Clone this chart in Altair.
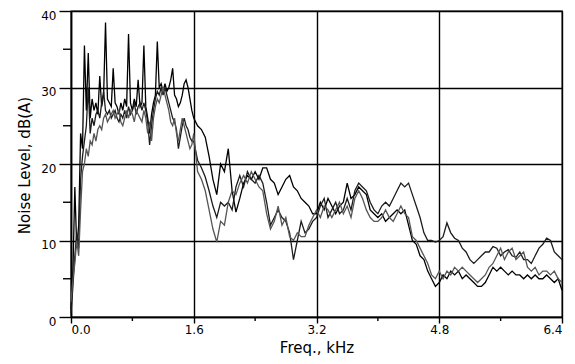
import altair as alt
import pandas as pd

# frequency grid (kHz): fine below 1.6 kHz, coarser above
freq_lo = [round(0.025 * i, 3) for i in range(64)]
freq_hi = [round(1.6 + 0.05 * j, 2) for j in range(97)]

s1_lo = [1, 6, 17, 9, 12, 24, 22, 35.5, 27, 34.5, 26, 28.5, 27, 28, 26.5, 31.5,
         27.5, 29, 38.5, 28.5, 28, 27.5, 32.5, 28, 27.5, 26.5, 28, 27, 28.5, 27.5, 37, 28,
         27, 28.5, 27.5, 31, 27.5, 28, 35.5, 27.5, 26, 24, 26.5, 28, 29, 36, 30, 30.5,
         29.5, 30.5, 29.5, 30, 31, 32.5, 29, 28.5, 27.5, 28, 29, 30.5, 31, 30, 28.5, 27]
s2_lo = [0.5, 4, 8, 11, 9, 18, 21, 23, 25, 30, 24, 26, 25, 26.5, 27, 26,
         28, 29.5, 27, 26.5, 27, 26, 26.5, 27, 26, 25.5, 26.5, 26, 27, 26, 27.5, 26.5,
         27, 28, 26.5, 27.5, 28, 27, 28, 27, 25.5, 22.5, 25, 27, 28.5, 29.5, 29, 30,
         29, 30, 29, 28, 27, 26, 25.5, 24.5, 22, 23.5, 25, 26, 25, 24.5, 23.5, 23]
s3_lo = [2, 5, 7, 10, 8, 14, 19, 20, 22, 21, 23, 22.5, 24, 23, 24.5, 25,
         24.5, 26, 26.5, 25.5, 26, 26.5, 27, 26, 26.5, 27, 25.5, 25, 26, 27, 26, 27,
         26.5, 25.5, 27, 26.5, 26, 25.5, 27, 26, 24, 25.5, 23, 26, 27.5, 28.5, 28, 29,
         30, 29, 28, 27, 25.5, 25, 26, 24, 23, 24.5, 26, 25, 24, 23, 22, 22.5]

s1_hi = [26, 25, 24.5, 23.5, 21, 18, 16, 20, 19, 22, 16.5, 13.7, 15.5, 17.5, 18.5, 18,
         19, 18, 19.5, 19.5, 18, 17.5, 16, 17, 18, 18.5, 17, 16.5, 15.5, 15, 14.5, 13.5,
         13.5, 15, 14, 15.5, 14.5, 13.5, 14.5, 15, 17.5, 15.5, 16, 17, 16.5, 16, 14, 13.5,
         13, 13.5, 12.5, 13, 13.5, 14, 13.5, 14, 12, 10, 9.5, 8, 7.5, 6, 5, 4,
         4.5, 5.5, 5, 6, 5.5, 6, 5, 5.5, 5, 4.5, 4, 4, 4.5, 5.5, 6.5, 6,
         6.5, 6, 5.5, 6, 5.5, 5.5, 5, 5.5, 5, 5.5, 5, 5, 5.5, 5, 4.5, 5, 3.5]
s2_hi = [23, 20.5, 19.5, 18.3, 16.5, 14.5, 13, 15, 14.5, 15, 14, 17, 18.5, 17, 19, 18,
         17.5, 18.5, 17.5, 15, 12, 13, 14, 13, 12.5, 11, 7.5, 10, 12.5, 11, 11.5, 12.5,
         13, 14.5, 15.5, 13, 14, 15, 13.5, 14, 15.5, 14, 16.5, 17.5, 17, 16.5, 15, 14,
         13.5, 14.5, 15, 14.5, 15.5, 16.5, 17.5, 17, 17.5, 16, 14.5, 13, 11, 10, 10, 9.8,
         10, 10.5, 12.3, 11, 10.3, 10, 9, 8.5, 7.5, 7, 7.5, 8, 8.5, 8.5, 9.2, 9,
         8, 8.5, 8.8, 8, 7.8, 8.5, 7.5, 7.5, 7, 8, 9, 9.5, 10.3, 10, 8.5, 8, 7.5]
s3_hi = [24, 19, 18, 16.5, 14, 11.5, 9.8, 12.5, 12, 15, 16.5, 16, 17.5, 18.5, 17.5, 19,
         18, 17, 16.5, 13.5, 11.5, 12.5, 14.5, 12, 13, 10.5, 10, 11, 10.5, 10.5, 12, 13,
         14, 13, 14.5, 14, 13, 14, 15, 13.5, 14.5, 13, 15.5, 16.5, 15.5, 14, 13, 12.5,
         12.5, 13, 14, 13, 12.5, 13.5, 14.5, 13.5, 13, 10.5, 10, 9, 8, 7, 5.5, 5,
         6, 5, 6, 5.5, 6.5, 6, 6.5, 6, 5.5, 5, 4.5, 5, 5.5, 6.5, 7, 8,
         9, 7.5, 8.5, 9, 7.5, 8, 8.5, 6.5, 6, 6.5, 5.5, 6, 6, 5.5, 6, 5, 4.5]

y_major = [0, 10, 20, 30, 40]
x_major = [0.0, 1.6, 3.2, 4.8, 6.4]
y_minor = [5, 15, 25, 35]
x_minor = [0.8, 2.4, 4.0, 5.6]

freq = freq_lo + freq_hi
rows = []
for name, lo, hi in [("A", s1_lo, s1_hi), ("B", s2_lo, s2_hi), ("C", s3_lo, s3_hi)]:
    vals = lo + hi
    for i, (f, v) in enumerate(zip(freq, vals)):
        rows.append({"freq": f, "level": v, "series": name, "order": i})
df = pd.DataFrame(rows)

W, H = 491, 306
FONT = "DejaVu Sans"

xs = alt.Scale(domain=[0, 6.4], nice=False, zero=False)
ys = alt.Scale(domain=[0, 40], nice=False)

common = dict(grid=True, gridColor="#000", gridWidth=1.4, gridOpacity=1,
              domainColor="#000", domainWidth=1.6, tickColor="#000", tickWidth=1.4,
              labelFont=FONT, labelFontSize=12, labelColor="#000",
              titleFont=FONT, titleFontWeight="normal", titleColor="#000")

lines = alt.Chart(df).mark_line(strokeWidth=1.3, interpolate="linear").encode(
    x=alt.X("freq:Q", scale=xs,
            axis=alt.Axis(values=x_major, format=".1f", title="Freq., kHz",
                          tickSize=6, labelPadding=1, titleFontSize=15,
                          titleY=38, titleBaseline="bottom", **common)),
    y=alt.Y("level:Q", scale=ys,
            axis=alt.Axis(values=y_major, title="Noise Level, dB(A)",
                          tickSize=12, labelPadding=3, labelBaseline="top",
                          labelOffset=-1, titleFontSize=15,
                          titleX=-47, titleY=154, titleBaseline="middle", **common)),
    color=alt.Color("series:N", legend=None,
                    scale=alt.Scale(domain=["A", "B", "C"],
                                    range=["#000000", "#1c1c1c", "#555555"])),
    detail="series:N",
    order="order:Q",
)

ymin = alt.Chart(pd.DataFrame({"v": y_minor})).mark_rule(color="#000", strokeWidth=1.4).encode(
    y=alt.Y("v:Q", scale=ys), x=alt.value(-8), x2=alt.value(0))
xmin = alt.Chart(pd.DataFrame({"v": x_minor})).mark_rule(color="#000", strokeWidth=1.4).encode(
    x=alt.X("v:Q", scale=xs), y=alt.value(H), y2=alt.value(H + 4))

chart = alt.layer(lines, ymin, xmin).properties(
    width=W, height=H,
    autosize=alt.AutoSizeParams(type="none"),
    padding={"left": 63, "top": 3, "right": 5, "bottom": 39},
    background="white",
).configure_view(stroke="#000", strokeWidth=1.3)

chart.save("out.html", embed_options={"renderer": "svg", "actions": False})
